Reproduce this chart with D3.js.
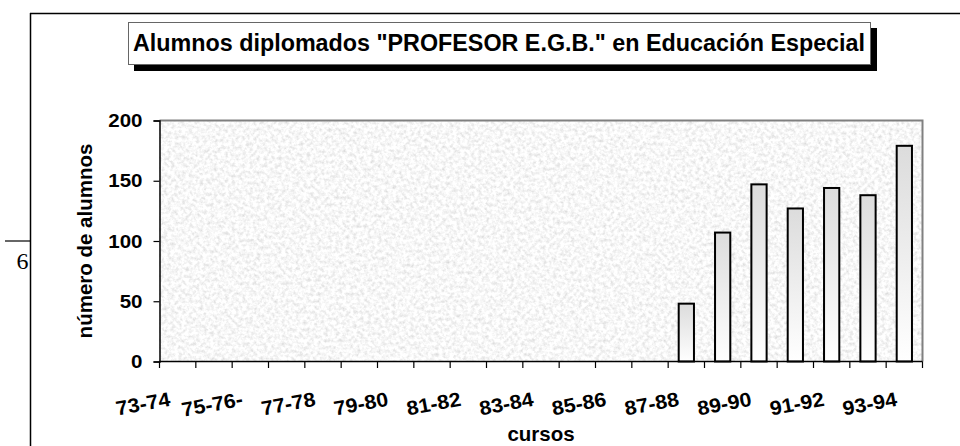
<!DOCTYPE html>
<html><head><meta charset="utf-8">
<script src="https://cdn.jsdelivr.net/npm/d3@7/dist/d3.min.js"></script>
<style>html,body{margin:0;padding:0;background:#fff}svg{display:block}</style>
</head><body>
<script>
const categories = ["73-74","74-75","75-76","76-77","77-78","78-79","79-80","80-81","81-82","82-83","83-84","84-85","85-86","86-87","87-88","88-89","89-90","90-91","91-92","92-93","93-94"];
const values = [null,null,null,null,null,null,null,null,null,null,null,null,null,null,48,107,147,127,144,138,179];
const tickCategories = ["73-74","75-76","77-78","79-80","81-82","83-84","85-86","87-88","89-90","91-92","93-94"];
const tickLabels = ["73-74","75-76-","77-78","79-80","81-82","83-84","85-86","87-88","89-90","91-92","93-94"];
const yTicks = [0,50,100,150,200];
const title = "Alumnos diplomados \"PROFESOR E.G.B.\" en Educación Especial";
const yTitle = "número de alumnos";
const xTitle = "cursos";
const pageNumber = "6";

const W = 960, H = 446;
const plot = {left:159.5, right:922.5, top:120.5, bottom:361.5};
const font = "'Liberation Sans', Arial, sans-serif";

const svg = d3.select("body").append("svg").attr("width", W).attr("height", H);
svg.append("rect").attr("width", W).attr("height", H).attr("fill", "#fff");

const defs = svg.append("defs");
const f = defs.append("filter").attr("id","noise").attr("filterUnits","objectBoundingBox")
  .attr("x",0).attr("y",0).attr("width",1).attr("height",1);
f.append("feTurbulence").attr("type","fractalNoise").attr("baseFrequency","0.28").attr("numOctaves",3).attr("seed",7).attr("result","t");
f.append("feColorMatrix").attr("type","matrix")
  .attr("values","0.55 0 0 0 0.66  0.55 0 0 0 0.66  0.55 0 0 0 0.66  0 0 0 0 1");
const g = defs.append("linearGradient").attr("id","barGrad").attr("x1",0).attr("y1",0).attr("x2",0).attr("y2",1);
g.append("stop").attr("offset","0%").attr("stop-color","#dcdcdc");
g.append("stop").attr("offset","100%").attr("stop-color","#ffffff");

// page frame
svg.append("line").attr("x1",30).attr("y1",13.5).attr("x2",W).attr("y2",13.5).attr("stroke","#000").attr("stroke-width",1.5);
svg.append("line").attr("x1",30.5).attr("y1",13).attr("x2",30.5).attr("y2",H).attr("stroke","#000").attr("stroke-width",1.5);
svg.append("line").attr("x1",5).attr("y1",241).attr("x2",30).attr("y2",241).attr("stroke","#000").attr("stroke-width",1.2);
svg.append("text").attr("x",22.5).attr("y",269).attr("text-anchor","middle")
  .attr("font-family","'Liberation Serif', 'Times New Roman', serif").attr("font-size",24).text(pageNumber);

// title box
svg.append("rect").attr("x",134).attr("y",28).attr("width",743).attr("height",43).attr("fill","#000");
svg.append("rect").attr("x",128.5).attr("y",22.5).attr("width",742).attr("height",42).attr("fill","#fff").attr("stroke","#666").attr("stroke-width",1);
svg.append("text").attr("x",499).attr("y",51).attr("text-anchor","middle")
  .attr("font-family",font).attr("font-weight","bold").attr("font-size",23)
  .attr("textLength",732).attr("lengthAdjust","spacingAndGlyphs").text(title);

const x = d3.scaleBand().domain(categories).range([plot.left, plot.right]).paddingInner(0.58).paddingOuter(0.29);
const y = d3.scaleLinear().domain([0,200]).range([plot.bottom, plot.top]);

// plot background
svg.append("rect").attr("x",plot.left).attr("y",plot.top).attr("width",plot.right-plot.left).attr("height",plot.bottom-plot.top)
  .attr("filter","url(#noise)");
svg.append("path").attr("d",`M${plot.left},${plot.top}H${plot.right}V${plot.bottom}`).attr("fill","none").attr("stroke","#808080").attr("stroke-width",2);

// bars
svg.append("g").selectAll("rect").data(categories.map((c,i)=>({c, v:values[i]})).filter(d=>d.v!=null))
  .join("rect")
  .attr("x", d=>x(d.c)).attr("y", d=>y(d.v)).attr("width", x.bandwidth()).attr("height", d=>y(0)-y(d.v))
  .attr("fill","url(#barGrad)").attr("stroke","#000").attr("stroke-width",2);

// y axis
const yAxis = svg.append("g").attr("transform",`translate(${plot.left},0)`)
  .call(d3.axisLeft(y).tickValues(yTicks).tickSize(6).tickPadding(12));
yAxis.select(".domain").attr("stroke","#000").attr("stroke-width",1.5);
yAxis.selectAll(".tick line").attr("stroke","#000").attr("stroke-width",1.2);
yAxis.selectAll(".tick text").attr("font-family",font).attr("font-weight","bold").attr("font-size",19).attr("fill","#000")
  .attr("transform","scale(1.08,1)").attr("x",-17/1.08);

// x axis line and ticks at category boundaries
svg.append("line").attr("x1",plot.left).attr("x2",plot.right).attr("y1",plot.bottom).attr("y2",plot.bottom).attr("stroke","#000").attr("stroke-width",1.5);
svg.append("g").selectAll("line").data(d3.range(categories.length+1))
  .join("line")
  .attr("x1", i=>plot.left + i*x.step()).attr("x2", i=>plot.left + i*x.step())
  .attr("y1", plot.bottom).attr("y2", plot.bottom+6.5).attr("stroke","#000").attr("stroke-width",1.2);

// x tick labels
svg.append("g").selectAll("text").data(tickCategories)
  .join("text")
  .attr("transform", (c)=>`translate(${x(c)+x.bandwidth()/2-6.5},405.5) rotate(-10.5) scale(1.07,1)`)
  .attr("text-anchor","end")
  .attr("font-family",font).attr("font-weight","bold").attr("font-size",20).attr("fill","#000")
  .text((c,i)=>tickLabels[i]);

// axis titles
svg.append("text").attr("transform","translate(91.5,241) rotate(-90)").attr("text-anchor","middle")
  .attr("font-family",font).attr("font-weight","bold").attr("font-size",20.5).text(yTitle);
svg.append("text").attr("x",541).attr("y",441).attr("text-anchor","middle")
  .attr("font-family",font).attr("font-weight","bold").attr("font-size",20.5).text(xTitle);
</script>
</body></html>
